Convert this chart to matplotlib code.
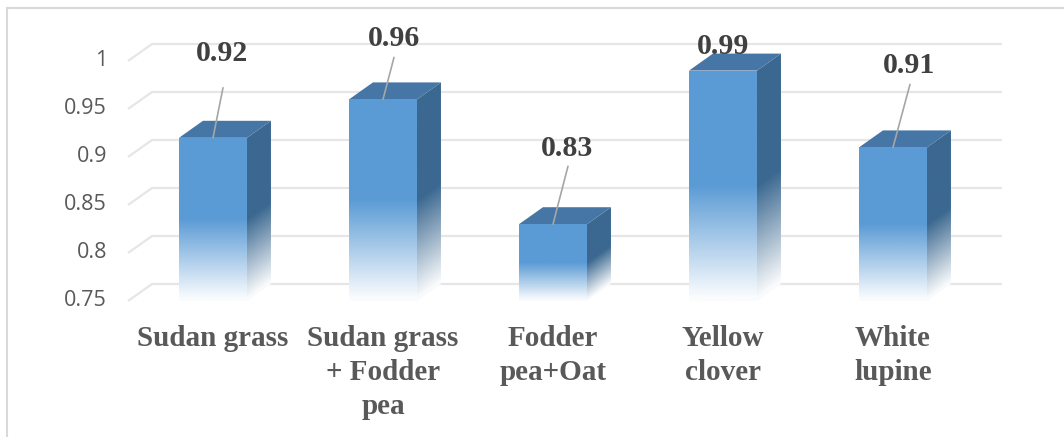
import numpy as np
import matplotlib
matplotlib.use('Agg')
import matplotlib.pyplot as plt
from matplotlib.patches import Polygon
from matplotlib.lines import Line2D
from matplotlib.colors import to_rgb

categories = ['Sudan grass', 'Sudan grass\n+ Fodder\npea', 'Fodder\npea+Oat', 'Yellow\nclover', 'White\nlupine']
values = [0.92, 0.96, 0.83, 0.99, 0.91]
value_labels = ['0.92', '0.96', '0.83', '0.99', '0.91']
y_ticks = [0.75, 0.8, 0.85, 0.9, 0.95, 1.0]
y_tick_labels = ['0.75', '0.8', '0.85', '0.9', '0.95', '1']

# label placement (pixels, relative to the top-centre of each bar)
label_offsets = [(9, 77), (11, 53), (14, 68), (0, 17), (16, 74)]
leader_tops = [(10, 50), (11, 42), (15, 58), None, (17, 63)]

base = 0.75
bar_w = 0.4
depth_x = 0.141    # 3-D depth in x units
depth_y = 0.0177   # 3-D depth in value units

front_col = '#5b9bd5'
top_col = '#4676a6'
side_col = '#3b6890'
grid_col = '#e6e6e6'
txt_col = '#595959'
lab_col = '#404040'

fig = plt.figure(figsize=(10.64, 4.37), dpi=100)
ax = fig.add_axes([0, 0, 1, 1])
ax.set_axis_off()
n = len(values)


def faded(color, h):
    # solid in upper half, blends to white towards the floor
    a = np.clip(h / 0.5, 0.03, 1.0)
    rgb = np.array(to_rgb(color))
    return (1 - a[..., None]) + a[..., None] * rgb


# back wall gridlines with floor diagonal
for t in y_ticks:
    ax.plot([-0.5, -0.5 + depth_x, n - 0.5 + depth_x], [t, t + depth_y, t + depth_y],
            color=grid_col, lw=1.6, zorder=1, solid_capstyle='butt')

for lab, t in zip(y_tick_labels, y_ticks):
    ax.text(-0.624, t, lab, ha='right', va='center', fontsize=15.5,
            family='Open Sans', color=txt_col)

for i, v in enumerate(values):
    x0, x1 = i - bar_w / 2, i + bar_w / 2
    hgt = v - base

    # side face
    side = Polygon([(x1, base), (x1 + depth_x, base + depth_y),
                    (x1 + depth_x, v + depth_y), (x1, v)], closed=True,
                   facecolor='none', edgecolor='none')
    ax.add_patch(side)
    xs = np.linspace(x1, x1 + depth_x, 40)
    ys = np.linspace(base, v + depth_y, 300)
    X, Y = np.meshgrid(xs, ys)
    H = (Y - (base + depth_y * (X - x1) / depth_x)) / hgt
    im = ax.imshow(faded(side_col, H), extent=[x1, x1 + depth_x, base, v + depth_y],
                   origin='lower', aspect='auto', zorder=2, interpolation='bilinear')
    im.set_clip_path(side)

    # top face
    ax.add_patch(Polygon([(x0, v), (x0 + depth_x, v + depth_y),
                          (x1 + depth_x, v + depth_y), (x1, v)], closed=True,
                         facecolor=top_col, edgecolor='none', zorder=3))

    # front face
    front = Polygon([(x0, base), (x1, base), (x1, v), (x0, v)], closed=True,
                    facecolor='none', edgecolor='none')
    ax.add_patch(front)
    ys = np.linspace(0, 1, 300)
    img = faded(front_col, np.repeat(ys[:, None], 2, axis=1))
    im = ax.imshow(img, extent=[x0, x1, base, v], origin='lower', aspect='auto',
                   zorder=3, interpolation='bilinear')
    im.set_clip_path(front)

    # value label and leader line
    dx, dy = label_offsets[i]
    ax.annotate(value_labels[i], xy=(i, v), xytext=(dx, dy), textcoords='offset pixels',
                ha='center', va='baseline', fontsize=21.5, fontweight='bold',
                family='Liberation Serif', color=lab_col, zorder=5)
    if leader_tops[i] is not None:
        tx, ty = leader_tops[i]
        ax.annotate('', xy=(i, v), xytext=(tx, ty), textcoords='offset pixels',
                    arrowprops=dict(arrowstyle='-', color='#a6a6a6', lw=1.2,
                                    shrinkA=0, shrinkB=0),
                    zorder=4)

    ax.text(i, 0.7255, categories[i], ha='center', va='top', fontsize=21,
            fontweight='bold', family='Liberation Serif', color=txt_col,
            linespacing=1.35)

ax.set_xlim(-213 / 170, (1064 - 213) / 170)
ax.set_ylim(0.60833, 1.06354)

# chart frame
fig.add_artist(Line2D([7 / 1064, 7 / 1064], [0, 1 - 8 / 437], color='#d9d9d9', lw=1.5))
fig.add_artist(Line2D([7 / 1064, 1], [1 - 8 / 437, 1 - 8 / 437], color='#d9d9d9', lw=1.5))

fig.savefig('out.png', dpi=100, facecolor='white')
